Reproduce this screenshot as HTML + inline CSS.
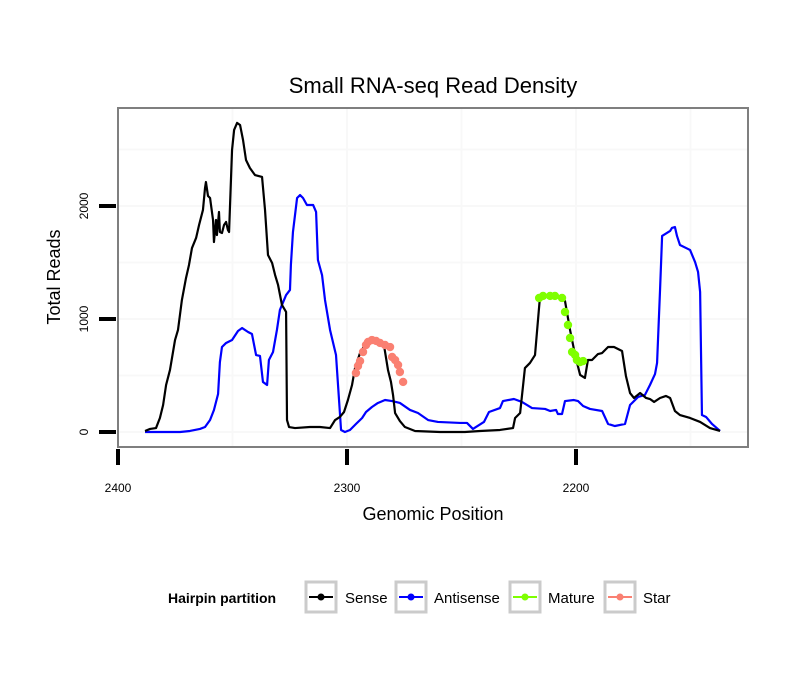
<!DOCTYPE html>
<html><head><meta charset="utf-8"><style>
body{margin:0;background:#fff;}
svg text{font-family:"Liberation Sans",sans-serif;}
</style></head><body>
<svg id="chart" width="810" height="690" xmlns="http://www.w3.org/2000/svg">
<rect width="810" height="690" fill="#fff"/>
<text x="433" y="93" font-size="22" text-anchor="middle">Small RNA-seq Read Density</text>
<g id="grid"></g>
<g id="series"></g>
<rect x="118" y="108" width="630" height="339" fill="none" stroke="#7f7f7f" stroke-width="2"/>
<g id="axes"></g>
<text x="433" y="520" font-size="18" text-anchor="middle">Genomic Position</text>
<text transform="translate(60,277) rotate(-90)" font-size="18" text-anchor="middle">Total Reads</text>
<g>
<text x="168" y="603" font-size="14" font-weight="bold">Hairpin partition</text>
<g>
<rect x="306" y="582" width="30" height="30" fill="#fff" stroke="#cbcbcb" stroke-width="3"/>
<line x1="309" y1="597" x2="333" y2="597" stroke="#000" stroke-width="2"/><circle cx="321" cy="597" r="3.5" fill="#000"/>
<text x="345" y="603" font-size="15">Sense</text></g>
<g>
<rect x="396" y="582" width="30" height="30" fill="#fff" stroke="#cbcbcb" stroke-width="3"/>
<line x1="399" y1="597" x2="423" y2="597" stroke="#00f" stroke-width="2"/><circle cx="411" cy="597" r="3.5" fill="#00f"/>
<text x="434" y="603" font-size="15">Antisense</text></g>
<g>
<rect x="510" y="582" width="30" height="30" fill="#fff" stroke="#cbcbcb" stroke-width="3"/>
<line x1="513" y1="597" x2="537" y2="597" stroke="#7fff00" stroke-width="2"/><circle cx="525" cy="597" r="3.5" fill="#7fff00"/>
<text x="548" y="603" font-size="15">Mature</text></g>
<g>
<rect x="605" y="582" width="30" height="30" fill="#fff" stroke="#cbcbcb" stroke-width="3"/>
<line x1="608" y1="597" x2="632" y2="597" stroke="#fa8072" stroke-width="2"/><circle cx="620" cy="597" r="3.5" fill="#fa8072"/>
<text x="643" y="603" font-size="15">Star</text></g>
</g>
</svg>
<script>
const xTicks=[2400,2300,2200];
const yTicks=[0,1000,2000];
const xMinorGrid=[2350,2250,2150];
const yMinorGrid=[500,1500,2500];
const sensePos=[2388.2,2386.0,2383.4,2381.7,2380.3,2379.0,2377.3,2375.1,2373.8,2372.1,2370.3,2369.0,2367.7,2365.9,2364.6,2362.9,2362.0,2361.6,2360.7,2359.8,2358.5,2358.1,2357.2,2356.8,2355.9,2355.5,2354.6,2353.7,2352.8,2352.0,2351.5,2350.2,2349.3,2348.0,2346.7,2345.4,2344.1,2342.4,2340.2,2337.1,2335.8,2334.5,2332.7,2331.4,2330.1,2328.4,2326.6,2326.2,2325.3,2322.7,2316.2,2311.8,2307.4,2305.2,2303.1,2301.3,2299.6,2297.8,2296.5,2294.3,2291.7,2289.1,2286.5,2283.8,2282.1,2280.8,2279.9,2279.0,2276.9,2274.7,2270.3,2259.4,2248.5,2241.9,2233.2,2227.5,2226.6,2224.4,2222.3,2220.1,2217.9,2215.7,2211.3,2207.0,2204.8,2202.6,2200.4,2198.2,2196.1,2194.8,2193.0,2190.4,2188.6,2186.0,2183.4,2179.9,2178.2,2176.4,2174.7,2172.0,2169.4,2167.7,2165.9,2163.3,2160.7,2158.9,2156.8,2154.6,2150.2,2145.8,2141.5,2137.1];
const senseVal=[9,27,35,124,239,416,549,814,903,1168,1363,1478,1628,1717,1832,1965,2159,2212,2089,2071,1876,1681,1876,1743,1947,1770,1761,1832,1859,1788,1770,2496,2673,2735,2717,2584,2407,2336,2274,2257,1965,1566,1496,1389,1301,1124,1062,106,44,35,44,44,35,106,133,177,283,416,566,699,788,806,788,761,549,443,328,168,97,44,9,0,0,9,18,35,124,168,566,611,681,1204,1212,1195,1159,903,682,505,478,637,637,690,699,752,752,717,496,345,301,345,301,292,266,301,319,301,186,150,124,89,35,9];
const antiPos=[2388.2,2372.9,2368.6,2366.4,2364.2,2362.0,2359.8,2358.1,2356.3,2355.5,2354.6,2352.8,2350.2,2347.6,2345.8,2343.2,2341.5,2339.7,2338.0,2336.7,2334.9,2334.1,2332.3,2330.6,2329.3,2326.6,2324.9,2324.5,2323.6,2321.8,2320.5,2319.2,2317.5,2314.8,2313.5,2312.7,2310.9,2309.6,2307.4,2304.8,2302.6,2300.9,2298.7,2296.1,2293.4,2291.7,2289.1,2286.5,2283.4,2280.3,2276.9,2272.5,2269.0,2264.6,2260.3,2250.6,2247.6,2245.0,2240.2,2238.0,2233.2,2231.9,2227.1,2223.6,2219.2,2213.5,2211.3,2208.7,2207.9,2206.1,2204.8,2200.9,2199.1,2196.9,2193.9,2188.6,2186.0,2183.0,2178.6,2176.4,2172.9,2169.9,2167.7,2165.5,2164.6,2163.3,2162.4,2158.9,2158.1,2156.8,2155.9,2154.6,2151.1,2150.2,2148.0,2146.7,2145.8,2145.0,2143.2,2140.6,2137.1];
const antiVal=[0,0,9,18,27,44,106,195,336,619,752,788,814,894,920,885,867,681,673,443,416,637,708,903,1080,1212,1257,1478,1770,2071,2097,2071,2009,2009,1947,1522,1389,1168,903,681,18,0,18,71,124,177,221,257,283,274,257,195,168,106,89,80,80,27,89,177,212,274,292,266,212,204,186,195,159,159,274,283,274,230,204,186,71,53,71,239,310,328,416,513,611,1257,1735,1779,1806,1814,1735,1655,1620,1611,1504,1416,1239,150,133,71,9];
const starPos=[2296.1,2295.2,2294.3,2293.0,2291.7,2290.8,2289.1,2287.3,2285.6,2283.4,2281.2,2280.3,2279.0,2277.7,2276.9,2275.5];
const starVal=[522,584,628,708,770,797,814,806,788,770,752,664,637,593,531,443];
const maturePos=[2216.1,2214.4,2211.3,2209.2,2206.1,2204.8,2203.5,2202.6,2201.7,2200.4,2199.6,2198.2,2196.9];
const matureVal=[1186,1204,1204,1204,1186,1062,947,832,708,682,637,619,628];

const NS='http://www.w3.org/2000/svg';
const X=v=>118+(2400-v)*2.29;
const Y=v=>432-v*0.113;
function mk(tag,attrs,parent){const e=document.createElementNS(NS,tag);for(const k in attrs)e.setAttribute(k,attrs[k]);parent.appendChild(e);return e;}
const grid=document.getElementById('grid'),series=document.getElementById('series'),axes=document.getElementById('axes');
xMinorGrid.concat(xTicks).forEach(v=>{const l=mk('line',{x1:X(v),x2:X(v),y1:108,y2:447,stroke:'#f8f8f8','stroke-width':2},grid);

});
yMinorGrid.concat(yTicks).forEach(v=>{const l=mk('line',{x1:118,x2:748,y1:Y(v),y2:Y(v),stroke:'#f8f8f8','stroke-width':2},grid);

});
function line(pos,val,color,name){const p=mk('polyline',{points:pos.map((q,i)=>X(q)+','+Y(val[i])).join(' '),fill:'none',stroke:color,'stroke-width':2.2,'stroke-linejoin':'round'},series);

}
line(antiPos,antiVal,'#0000ff','antisense-line');
line(sensePos,senseVal,'#000000','sense-line');
function pts(pos,val,color,name){pos.forEach((q,i)=>{const c=mk('circle',{cx:X(q),cy:Y(val[i]),r:4.2,fill:color},series);

});}
pts(starPos,starVal,'#fa8072','star-point');
pts(maturePos,matureVal,'#7fff00','mature-point');
xTicks.forEach(v=>{const t=mk('line',{x1:X(v),x2:X(v),y1:449,y2:465,stroke:'#000','stroke-width':4},axes);


const s=mk('text',{x:X(v),y:492,'font-size':12,'text-anchor':'middle'},axes);s.textContent=v;

});
yTicks.forEach(v=>{const t=mk('line',{x1:99,x2:116,y1:Y(v),y2:Y(v),stroke:'#000','stroke-width':4},axes);


const s=mk('text',{transform:'translate(88,'+Y(v)+') rotate(-90)','font-size':12,'text-anchor':'middle'},axes);s.textContent=v;

});
</script>
</body></html>
